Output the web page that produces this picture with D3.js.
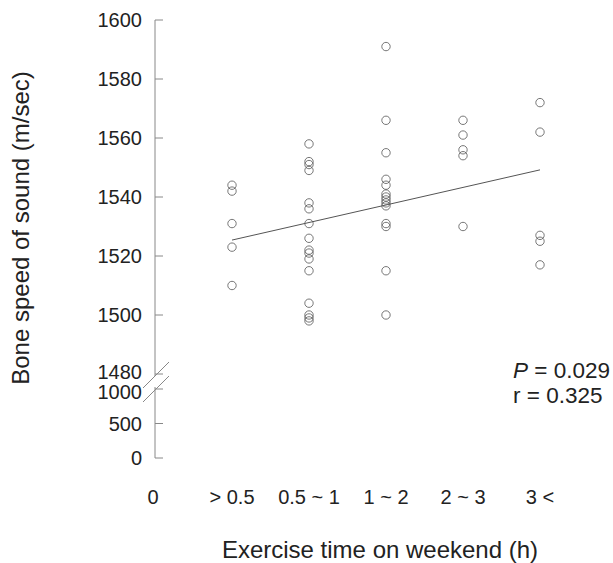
<!DOCTYPE html>
<html>
<head>
<meta charset="utf-8">
<script src="https://cdn.jsdelivr.net/npm/d3@7"></script>
<style>
  body { margin: 0; background: #fff; }
  svg { display: block; font-family: "Liberation Sans", Arial, sans-serif; }
</style>
</head>
<body>
<svg id="chart" width="613" height="563"></svg>
<script>
// ---- data ----
const categories = ["> 0.5", "0.5 ~ 1", "1 ~ 2", "2 ~ 3", "3 <"];
const xTickLabels = ["0", "> 0.5", "0.5 ~ 1", "1 ~ 2", "2 ~ 3", "3 <"];
const vals_lt05 = [1544, 1542, 1531, 1523, 1510];
const vals_05to1 = [1558, 1552, 1551, 1549, 1538, 1536, 1531, 1526, 1522, 1521, 1519, 1515, 1504, 1500, 1499, 1498];
const vals_1to2 = [1591, 1566, 1555, 1546, 1544, 1541, 1540, 1539, 1538, 1537, 1531, 1530, 1515, 1500];
const vals_2to3 = [1566, 1561, 1556, 1554, 1530];
const vals_gt3 = [1572, 1562, 1527, 1525, 1517];
const seriesValues = [vals_lt05, vals_05to1, vals_1to2, vals_2to3, vals_gt3];
const upperTicks = [1480, 1500, 1520, 1540, 1560, 1580, 1600];
const lowerTicks = [0, 500, 1000];
const regressionEnds = [1525.4, 1549.2]; // fitted values at first and last category
const annotation = ["P", " = 0.029", "r = 0.325"];

// ---- layout ----
const svg = d3.select("#chart");
const axisX = 155;
const x = d3.scaleLinear().domain([0, 5]).range([axisX, 540]);
const yUp = d3.scaleLinear().domain([1480, 1600]).range([374, 20]);
const yLow = d3.scaleLinear().domain([0, 1000]).range([458, 389]);
const axisColor = "#888";
const textColor = "#222";
const tickLen = 8;
const tickFont = 20;

// upper axis
const gUp = svg.append("g");
gUp.append("line").attr("x1", axisX).attr("x2", axisX)
  .attr("y1", yUp(1600)).attr("y2", yUp(1480) + 2)
  .attr("stroke", axisColor).attr("stroke-width", 1);
gUp.selectAll("line.tick").data(upperTicks).join("line").attr("class", "tick")
  .attr("x1", axisX).attr("x2", axisX + tickLen)
  .attr("y1", d => yUp(d)).attr("y2", d => yUp(d))
  .attr("stroke", axisColor).attr("stroke-width", 1);
gUp.selectAll("text").data(upperTicks).join("text")
  .attr("x", axisX - 13).attr("y", d => yUp(d) - (d === 1480 ? 2 : 0))
  .attr("dy", "0.36em").attr("text-anchor", "end")
  .attr("font-size", tickFont).attr("fill", textColor).text(d => d);

// lower axis
const gLow = svg.append("g");
gLow.append("line").attr("x1", axisX).attr("x2", axisX)
  .attr("y1", yLow(1000) - 2).attr("y2", yLow(0))
  .attr("stroke", axisColor).attr("stroke-width", 1);
gLow.selectAll("line.tick").data(lowerTicks).join("line").attr("class", "tick")
  .attr("x1", axisX).attr("x2", axisX + tickLen)
  .attr("y1", d => yLow(d)).attr("y2", d => yLow(d))
  .attr("stroke", axisColor).attr("stroke-width", 1);
gLow.selectAll("text").data(lowerTicks).join("text")
  .attr("x", axisX - 13).attr("y", d => yLow(d) + (d === 1000 ? 3 : 0))
  .attr("dy", "0.36em").attr("text-anchor", "end")
  .attr("font-size", tickFont).attr("fill", textColor).text(d => d);

// break slashes
const bUp = yUp(1480), bLow = yLow(1000);
[bUp + 2, bLow + 1].forEach(yc => {
  svg.append("line")
    .attr("x1", axisX - 12).attr("y1", yc + 12)
    .attr("x2", axisX + 14).attr("y2", yc - 14)
    .attr("stroke", axisColor).attr("stroke-width", 1);
});

// x tick labels
svg.selectAll("text.xlab").data(xTickLabels).join("text").attr("class", "xlab")
  .attr("x", (d, i) => x(i) - (i === 0 ? 2 : 0)).attr("y", 504)
  .attr("text-anchor", "middle").attr("font-size", tickFont).attr("fill", textColor)
  .text(d => d);

// points
const pts = [];
seriesValues.forEach((arr, i) => arr.forEach(v => pts.push({ cat: i + 1, v })));
svg.append("g").selectAll("circle").data(pts).join("circle")
  .attr("cx", d => x(d.cat)).attr("cy", d => yUp(d.v)).attr("r", 4.2)
  .attr("fill", "none").attr("stroke", "#555").attr("stroke-width", 0.8);

// regression line
svg.append("line")
  .attr("x1", x(1)).attr("y1", yUp(regressionEnds[0]))
  .attr("x2", x(categories.length)).attr("y2", yUp(regressionEnds[1]))
  .attr("stroke", "#555").attr("stroke-width", 1);

// annotation
const ann = svg.append("text").attr("x", 513).attr("y", 378)
  .attr("font-size", 22.5).attr("fill", textColor);
ann.append("tspan").attr("font-style", "italic").text(annotation[0]);
ann.append("tspan").text(annotation[1]);
svg.append("text").attr("x", 513).attr("y", 403)
  .attr("font-size", 22.5).attr("fill", textColor).text(annotation[2]);

// axis titles
svg.append("text")
  .attr("transform", "translate(29,228) rotate(-90)")
  .attr("text-anchor", "middle").attr("font-size", 24).attr("fill", textColor)
  .text("Bone speed of sound (m/sec)");
svg.append("text").attr("x", 380).attr("y", 558)
  .attr("text-anchor", "middle").attr("font-size", 24).attr("fill", textColor)
  .text("Exercise time on weekend (h)");
</script>
</body>
</html>
